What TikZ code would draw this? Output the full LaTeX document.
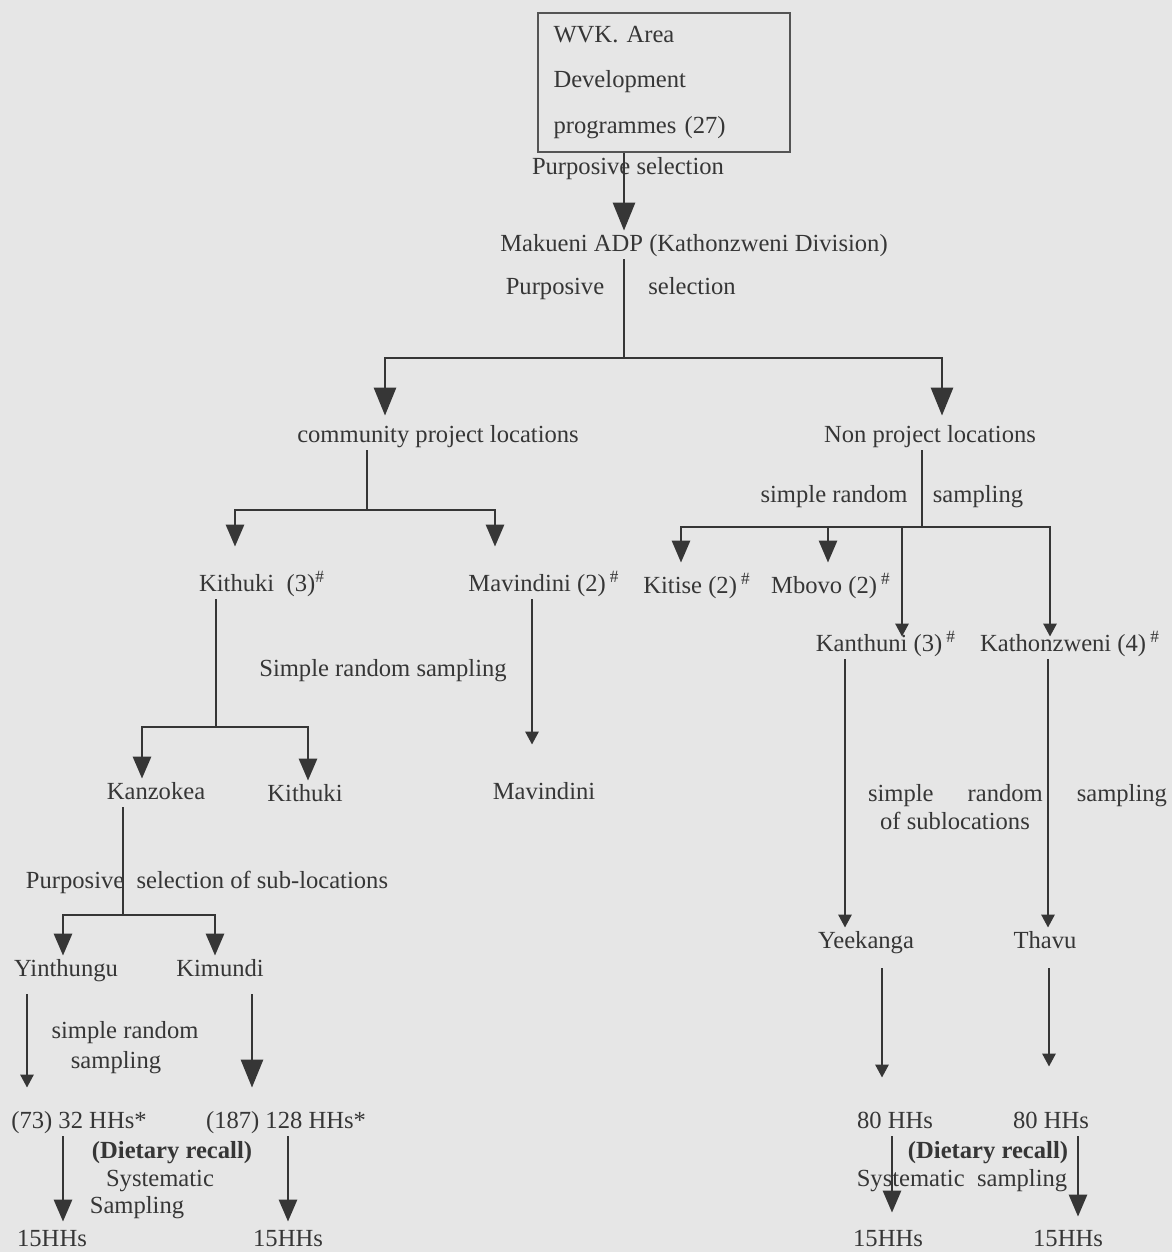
\documentclass[tikz,border=0pt]{standalone}
\usepackage{fontspec}
\setmainfont{Liberation Serif}
\usepackage{tikz}
\usepackage{xcolor}
\usetikzlibrary{arrows.meta}
\definecolor{ink}{HTML}{363636}
\definecolor{paper}{HTML}{E6E6E6}
\tikzset{
    plain-label/.style = {inner sep=1pt, text=ink, text height=9pt, text depth=3pt, font=\fontsize{12.3}{14}\selectfont},
    bold-label/.style = {plain-label, font=\fontsize{12.3}{14}\selectfont\bfseries},
    title-box/.style = {draw=ink!85, line width=1pt, text=ink, rectangle, align=left, text width=110pt, inner xsep=8pt, minimum height=69.5pt, font=\fontsize{12.3}{22.75}\selectfont},
    link/.style = {draw=ink, line width=1.4pt},
    big-arrow/.style = {link, -{Triangle[width=11pt, length=14pt]}},
    mid-arrow/.style = {link, -{Triangle[width=9pt, length=11pt]}},
    small-arrow/.style = {link, -{Triangle[width=6.5pt, length=6.5pt]}},
}

\begin{document}
\begin{tikzpicture}[x=0.5pt, y=-0.5pt]
\fill[paper] (0,0) rectangle (1172,1252);
\useasboundingbox (0,0) rectangle (1172,1252);

% top of the tree
\node[title-box] (wvk) at (663.5,82.5) {WVK. Area\\Development\\programmes (27)};
\node[plain-label] (purp-a) at (628,168) {Purposive selection};
\node[plain-label] (makueni) at (694,245) {Makueni ADP (Kathonzweni Division)};
\node[plain-label] (purp-b1) at (555,288) {Purposive};
\node[plain-label] (purp-b2) at (692,288) {selection};
\node[plain-label] (community) at (438,436) {community project locations};
\node[plain-label] (nonproject) at (930,436) {Non project locations};
\coordinate (split-a) at (624,358);

\draw[big-arrow] (wvk.south -| split-a) -- (makueni.north -| split-a);
\draw[link] (makueni.south -| split-a) -- (split-a);
\draw[big-arrow, shorten >=3pt] (split-a) -| ([xshift=-26.5pt]community.north);
\draw[big-arrow, shorten >=3pt] (split-a) -| ([xshift=6pt]nonproject.north);

% community project side
\node[plain-label] (kithuki-loc) at (262,585) {Kithuki~ (3)\textsuperscript{\#}};
\node[plain-label] (mavindini-loc) at (544,585) {Mavindini (2)\,\textsuperscript{\#}};
\coordinate (split-b) at (367,510);
\draw[link] (community.south -| split-b) -- (split-b);
\draw[mid-arrow, shorten >=12pt] (split-b) -| ([xshift=-13.5pt]kithuki-loc.north);
\draw[mid-arrow, shorten >=12pt] (split-b) -| ([xshift=-24.5pt]mavindini-loc.north);

\node[plain-label] (srs-d) at (383,670) {Simple random sampling};
\node[plain-label] (kanzokea) at (156,793) {Kanzokea};
\node[plain-label] (kithuki-sub) at (305,795) {Kithuki};
\node[plain-label] (mavindini-sub) at (544,793) {Mavindini};
\coordinate (split-d) at (216,727);
\draw[link] (kithuki-loc.south -| split-d) -- (split-d);
\draw[mid-arrow] (split-d) -| ([xshift=-7pt]kanzokea.north);
\draw[mid-arrow] (split-d) -| ([xshift=1.5pt]kithuki-sub.north);
\draw[small-arrow, shorten >=17pt] ([xshift=-6pt]mavindini-loc.south) -- ([xshift=-6pt]mavindini-sub.north);

\node[plain-label] (purp-c) at (207,882) {Purposive\ \ selection of sub-locations};
\node[plain-label] (yinthungu) at (66,970) {Yinthungu};
\node[plain-label] (kimundi) at (220,970) {Kimundi};
\coordinate (split-e) at (123,915);
\draw[link] (kanzokea.south -| split-e) -- (split-e);
\draw[mid-arrow] (split-e) -| ([xshift=-1.5pt]yinthungu.north);
\draw[mid-arrow] (split-e) -| ([xshift=-2.5pt]kimundi.north);

\node[plain-label] (srs-e1) at (125,1032) {simple random};
\node[plain-label] (srs-e2) at (116,1062) {sampling};
\node[plain-label] (hh73) at (79,1122) {(73) 32 HHs*};
\node[plain-label] (hh187) at (286,1122) {(187) 128 HHs*};
\draw[small-arrow, shorten <=5pt, shorten >=10pt] ([xshift=-19.5pt]yinthungu.south) -- ([xshift=-26pt]hh73.north);
\draw[big-arrow, shorten <=5pt, shorten >=10pt] ([xshift=16pt]kimundi.south) -- ([xshift=-17pt]hh187.north);

\node[bold-label] (diet-l) at (172,1152) {(Dietary recall)};
\node[plain-label] (sys-l1) at (160,1180) {Systematic};
\node[plain-label] (sys-l2) at (137,1207) {Sampling};
\node[plain-label] (hh15a) at (52,1240) {15HHs};
\node[plain-label] (hh15b) at (288,1240) {15HHs};
\draw[mid-arrow, shorten >=2pt] ([xshift=-8pt]hh73.south) -- ([xshift=5.5pt]hh15a.north);
\draw[mid-arrow, shorten >=2pt] ([xshift=1pt]hh187.south) -- (hh15b.north);

% non project side
\node[plain-label] (srs-c1) at (834,496) {simple random};
\node[plain-label] (srs-c2) at (978,496) {sampling};
\node[plain-label] (kitise) at (697,587) {Kitise (2)\,\textsuperscript{\#}};
\node[plain-label] (mbovo) at (831,587) {Mbovo (2)\,\textsuperscript{\#}};
\node[plain-label] (kanthuni) at (886,645) {Kanthuni (3)\,\textsuperscript{\#}};
\node[plain-label] (kathonzweni) at (1070,645) {Kathonzweni (4)\,\textsuperscript{\#}};
\coordinate (split-c) at (922,527);
\draw[link] (nonproject.south -| split-c) -- (split-c);
\draw[mid-arrow, shorten >=5pt] (split-c) -| ([xshift=-8pt]kitise.north);
\draw[mid-arrow, shorten >=5pt] (split-c) -| ([xshift=-1.5pt]mbovo.north);
\draw[small-arrow, shorten >=-3pt] (split-c) -| ([xshift=8pt]kanthuni.north);
\draw[small-arrow, shorten >=-3pt] (split-c) -| ([xshift=-10pt]kathonzweni.north);

\node[plain-label] (srs-f1) at (1017.5,795) {\makebox[149.5pt][s]{simple random sampling}};
\node[plain-label] (srs-f2) at (955,823) {of sublocations};
\node[plain-label] (yeekanga) at (866,942) {Yeekanga};
\node[plain-label] (thavu) at (1045,942) {Thavu};
\draw[small-arrow] ([xshift=-20.5pt]kanthuni.south) -- ([xshift=-10.5pt]yeekanga.north);
\draw[small-arrow] ([xshift=-11pt]kathonzweni.south) -- ([xshift=1.5pt]thavu.north);

\node[plain-label] (hh80a) at (895,1122) {80 HHs};
\node[plain-label] (hh80b) at (1051,1122) {80 HHs};
\draw[small-arrow, shorten <=6pt, shorten >=15pt] ([xshift=8pt]yeekanga.south) -- ([xshift=-6.5pt]hh80a.north);
\draw[small-arrow, shorten <=6pt, shorten >=20.5pt] ([xshift=2pt]thavu.south) -- ([xshift=-1pt]hh80b.north);

\node[bold-label] (diet-r) at (988,1152) {(Dietary recall)};
\node[plain-label] (sys-r) at (962,1180) {Systematic\ \ sampling};
\node[plain-label] (hh15c) at (888,1240) {15HHs};
\node[plain-label] (hh15d) at (1068,1240) {15HHs};
\draw[mid-arrow, shorten >=6.5pt] ([xshift=-1.5pt]hh80a.south) -- ([xshift=2pt]hh15c.north);
\draw[mid-arrow, shorten >=4.5pt] ([xshift=13.5pt]hh80b.south) -- ([xshift=5pt]hh15d.north);
\end{tikzpicture}
\end{document}
